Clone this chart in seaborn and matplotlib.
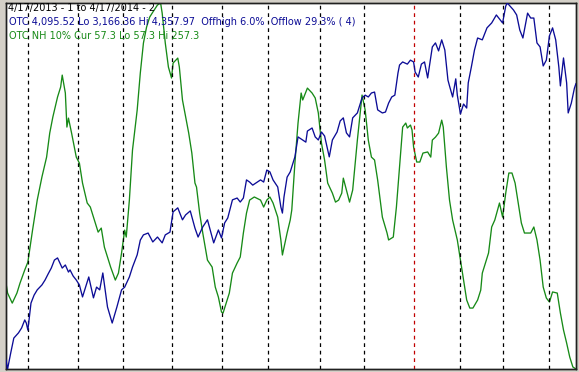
import numpy as np
import pandas as pd
import matplotlib
matplotlib.use('Agg')
import matplotlib.pyplot as plt
import seaborn as sns

start = pd.Timestamp('2013-04-17')

# OTC composite (blue) - days since 4/17/2013 and close
otc_days = [0, 1, 3, 5, 8, 10, 12, 13, 14, 16, 18, 20, 23, 25, 27, 29, 31, 33, 36, 38,
            40, 41, 43, 45, 47, 49, 52, 53, 56, 58, 60, 62, 65, 68, 71, 74, 76, 79, 81, 84,
            86, 88, 91, 94, 97, 100, 102, 105, 107, 110, 113, 115, 118, 121, 123, 126, 129, 133, 136, 138,
            140, 142, 145, 148, 150, 152, 154, 156, 158, 161, 163, 165, 167, 169, 171, 174, 176, 177, 178, 180,
            182, 185, 187, 190, 192, 193, 196, 198, 200, 202, 204, 207, 209, 212, 214, 216, 218, 220, 222, 225,
            228, 230, 232, 234, 236, 238, 241, 243, 245, 247, 249, 251, 252, 254, 257, 259, 261, 262, 264, 266,
            268, 270, 273, 275, 277, 279, 281, 283, 284, 286, 288, 289, 291, 293, 295, 296, 298, 300, 302, 305,
            308, 311, 314, 316, 318, 320, 321, 325, 327, 329, 331, 334, 336, 338, 340, 342, 344, 346, 348, 350,
            352, 354, 355, 357, 359, 360, 362, 364, 365]
otc = [3196, 3166, 3218, 3267, 3284, 3300, 3326, 3316, 3293, 3381, 3407, 3424, 3440, 3456, 3476, 3495, 3521, 3528, 3495, 3505,
       3482, 3489, 3469, 3456, 3440, 3401, 3450, 3466, 3398, 3433, 3424, 3479, 3368, 3316, 3368, 3424, 3433, 3466, 3498, 3538,
       3586, 3603, 3609, 3580, 3596, 3577, 3603, 3612, 3678, 3691, 3652, 3668, 3681, 3625, 3596, 3629, 3652, 3577, 3619, 3593,
       3642, 3658, 3717, 3723, 3710, 3723, 3782, 3775, 3765, 3775, 3782, 3775, 3814, 3808, 3782, 3759, 3694, 3674, 3726, 3791,
       3808, 3857, 3922, 3912, 3905, 3941, 3951, 3922, 3912, 3938, 3925, 3857, 3912, 3938, 3974, 3984, 3935, 3922, 3984, 4000,
       4049, 4058, 4052, 4065, 4068, 4010, 4000, 4003, 4032, 4052, 4058, 4130, 4156, 4166, 4159, 4172, 4166, 4133, 4117, 4159,
       4166, 4114, 4215, 4228, 4202, 4238, 4205, 4107, 4088, 4052, 4111, 4058, 3997, 4029, 4016, 4098, 4150, 4205, 4244, 4238,
       4277, 4293, 4319, 4306, 4293, 4348, 4358, 4335, 4319, 4270, 4244, 4325, 4309, 4309, 4228, 4215, 4153, 4172, 4251, 4277,
       4238, 4150, 4088, 4179, 4098, 4000, 4032, 4081, 4096]

# OTC new highs, 10% (green)
nh_days = [0, 1, 4, 7, 9, 12, 14, 17, 20, 23, 26, 28, 30, 33, 35, 36, 38, 39, 40, 42,
           45, 47, 49, 52, 54, 57, 59, 61, 63, 67, 70, 72, 74, 76, 77, 79, 81, 84, 86, 88,
           90, 92, 94, 97, 99, 100, 102, 104, 106, 107, 110, 111, 113, 117, 119, 121, 122, 124, 126, 129,
           132, 134, 136, 138, 139, 141, 143, 145, 148, 150, 152, 154, 156, 159, 163, 165, 167, 169, 171, 174,
           176, 177, 180, 182, 183, 185, 187, 189, 190, 193, 196, 198, 200, 202, 204, 206, 209, 211, 213, 215,
           216, 218, 220, 222, 224, 225, 228, 230, 232, 234, 236, 238, 241, 244, 245, 248, 250, 252, 254, 256,
           257, 259, 260, 261, 263, 265, 267, 270, 272, 273, 275, 277, 279, 280, 282, 284, 286, 289, 291, 293,
           295, 297, 299, 302, 304, 305, 307, 309, 311, 313, 316, 318, 320, 322, 324, 326, 328, 330, 332, 336,
           338, 340, 342, 344, 346, 348, 350, 353, 355, 357, 359, 361, 363, 365]
nh = [104.3, 98.8, 93.3, 98.8, 104.3, 111.4, 115.7, 133.2, 149.6, 162.2, 173.1, 186.2, 195.0, 205.9, 211.4, 217.9, 208.1, 189.5, 194.4, 186.2,
      173.1, 169.8, 158.9, 148.0, 145.8, 137.6, 132.1, 134.3, 123.9, 113.0, 105.9, 109.7, 120.7, 133.2, 129.4, 149.6, 176.9, 198.8, 219.0, 235.4,
      244.1, 249.6, 252.3, 256.2, 257.3, 251.8, 235.4, 222.3, 216.3, 224.5, 227.2, 222.3, 204.3, 186.2, 175.3, 158.9, 156.7, 142.5, 131.6, 116.8,
      113.0, 102.1, 96.6, 88.4, 87.9, 93.3, 98.8, 109.7, 115.2, 118.5, 131.6, 142.5, 149.6, 151.3, 149.6, 145.8, 149.6, 151.3, 148.0, 140.3,
      127.8, 119.6, 131.6, 138.7, 144.2, 169.8, 191.7, 208.1, 204.3, 210.8, 208.1, 205.4, 197.2, 180.8, 171.5, 158.9, 153.4, 148.5, 149.6, 153.4,
      161.6, 155.1, 148.5, 155.1, 173.1, 182.4, 207.0, 198.8, 182.4, 173.1, 171.5, 160.5, 140.3, 131.6, 127.8, 129.4, 145.8, 167.7, 189.5, 191.7,
      189.0, 190.6, 187.9, 178.6, 170.4, 170.4, 175.3, 175.9, 173.1, 182.4, 184.0, 186.2, 193.3, 189.5, 167.7, 149.6, 138.7, 127.8, 116.8, 105.9,
      95.0, 90.6, 90.6, 95.0, 100.4, 109.7, 115.2, 120.7, 134.9, 138.7, 148.0, 140.3, 153.4, 164.4, 164.4, 158.9, 148.0, 137.1, 131.6, 131.6,
      134.9, 127.8, 116.8, 102.1, 96.1, 93.9, 99.4, 98.8, 87.9, 78.6, 71.5, 63.8, 58.4, 57.3]

# month separators (days since start); the one at new year is red
month_days = [14, 46, 75, 106, 138, 168, 201, 229, 261, 291, 318, 348]
year_day = 261

otc_lo, otc_hi = 3166.36, 4357.97
nh_lo, nh_hi = 57.3, 257.3

df_otc = pd.DataFrame({'date': start + pd.to_timedelta(otc_days, unit='D'), 'close': otc})
df_nh = pd.DataFrame({'date': start + pd.to_timedelta(nh_days, unit='D'), 'nh': nh})

sns.set_style('white')
plt.rcParams['font.family'] = ['DejaVu Sans']

W, H = 579, 372
fig = plt.figure(figsize=(W / 100, H / 100), dpi=100, facecolor='#d4d0c8')
ax = fig.add_axes([6 / W, 1 - 369 / H, 570 / W, 366 / H])
ax.set_facecolor('white')

for d in month_days:
    c = '#c00000' if d == year_day else 'black'
    ax.axvline(start + pd.Timedelta(days=d), color=c, lw=0.9, ls=(0, (3, 3)), zorder=1)

ax2 = ax.twinx()
sns.lineplot(data=df_nh, x='date', y='nh', ax=ax2, color='#178a17', lw=0.95)
sns.lineplot(data=df_otc, x='date', y='close', ax=ax, color='#0c0c96', lw=0.95, zorder=3)
ax.set_zorder(ax2.get_zorder() + 1)
ax.patch.set_visible(False)
ax2.patch.set_visible(True)
ax2.set_facecolor('white')

ax.set_xlim(start, start + pd.Timedelta(days=365))
ax.set_ylim(otc_lo, otc_hi)
ax2.set_ylim(nh_lo, nh_hi)
for a in (ax, ax2):
    a.set_xticks([])
    a.set_yticks([])
    a.set_xlabel('')
    a.set_ylabel('')
    for s in a.spines.values():
        s.set_color('#202020')
        s.set_linewidth(1)

fig.text(8 / W, 1 - 3 / H, '4/17/2013 - 1 to 4/17/2014 - 2', color='black', fontsize=7, va='top', ha='left')
fig.text(9 / W, 1 - 17 / H, 'OTC 4,095.52 Lo 3,166.36 Hi 4,357.97  Offhigh 6.0%  Offlow 29.3% ( 4)',
         color='#0c0c96', fontsize=7, va='top', ha='left')
fig.text(9 / W, 1 - 31 / H, 'OTC NH 10% Cur 57.3 Lo 57.3 Hi 257.3', color='#178a17', fontsize=7, va='top', ha='left')

fig.savefig('out.png', dpi=100, facecolor=fig.get_facecolor())
